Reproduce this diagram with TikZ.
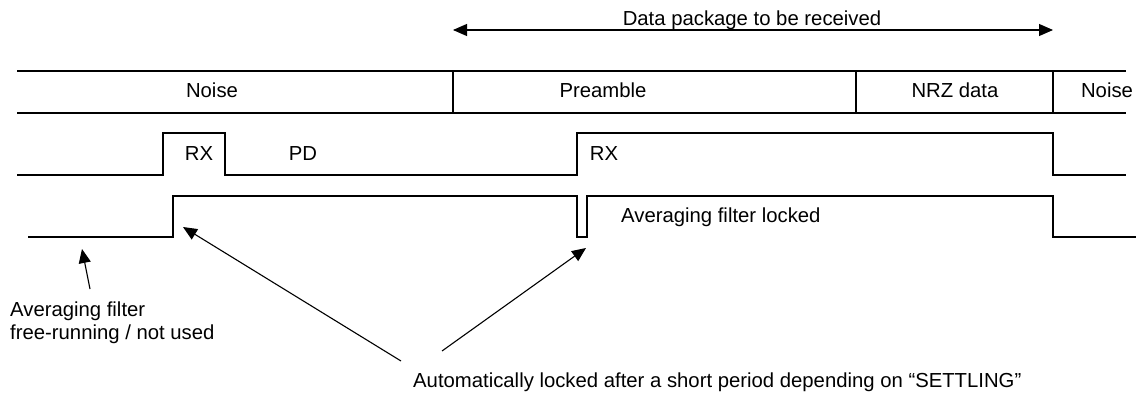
\documentclass[tikz,border=0pt]{standalone}
\usepackage{fontspec}
\setmainfont{Liberation Sans}
\usetikzlibrary{arrows.meta}

\tikzset{
  wave/.style={line width=1.6pt},
  lbl/.style={anchor=base,inner sep=0pt,font=\fontsize{20.3}{23}\selectfont},
  pointer/.style={line width=1.1pt,-{Triangle[length=14pt,width=12pt]}}
}

\begin{document}
\begin{tikzpicture}[x=1pt,y=-1pt]
    \useasboundingbox (0,0) rectangle (1138,396);

    % data package span
    \coordinate (pkgL) at (453,30); \coordinate (pkgR) at (1053,30);
    \draw[pointer,{Triangle[length=14pt,width=12pt]}-{Triangle[length=14pt,width=12pt]}] (pkgL) -- (pkgR);
    \node[lbl] (pkg) at (752,26) {Data package to be received};

    % frame of the received signal
    \draw[wave] (17,71) -- (1126,71) (17,113) -- (1126,113);
    \foreach \x in {453,856,1053} \draw[wave] (\x,71) -- (\x,113);
    \node[lbl] (noiseA) at (212,97) {Noise};
    \node[lbl] (pre) at (603,97) {Preamble};
    \node[lbl] (nrz) at (955,97) {NRZ data};
    \node[lbl] (noiseB) at (1107,97) {Noise};

    % RX / PD
    \draw[wave] (17,175) -- (163,175) -- (163,133) -- (225,133) -- (225,175)
      -- (577,175) -- (577,133) -- (1053,133) -- (1053,175) -- (1126,175);
    \node[lbl] (rxA) at (199,160) {RX};
    \node[lbl] (pd) at (303,160) {PD};
    \node[lbl] (rxB) at (604,160) {RX};

    % averaging filter
    \draw[wave] (28,237) -- (173,237) -- (173,196) -- (577,196) -- (577,237)
      -- (587,237) -- (587,196) -- (1053,196) -- (1053,237) -- (1136,237);
    \node[lbl,anchor=base west] (lock) at (621,222) {Averaging filter locked};

    % notes (base of a two-line node is its last line)
    \node[lbl,anchor=base west,align=left] (free) at (10,339)
      {Averaging filter\\free-running / not used};
    \node[lbl,anchor=base west] (auto) at (413,387)
      {Automatically locked after a short period depending on “SETTLING”};

    \coordinate (freeT) at (90,289); \coordinate (freeH) at (82,249);
    \coordinate (autoA) at (401,361); \coordinate (riseA) at (183,227);
    \coordinate (autoB) at (442,351); \coordinate (riseB) at (586,248);
    \draw[pointer] (freeT) -- (freeH);
    \draw[pointer] (autoA) -- (riseA);
    \draw[pointer] (autoB) -- (riseB);
\end{tikzpicture}
\end{document}
